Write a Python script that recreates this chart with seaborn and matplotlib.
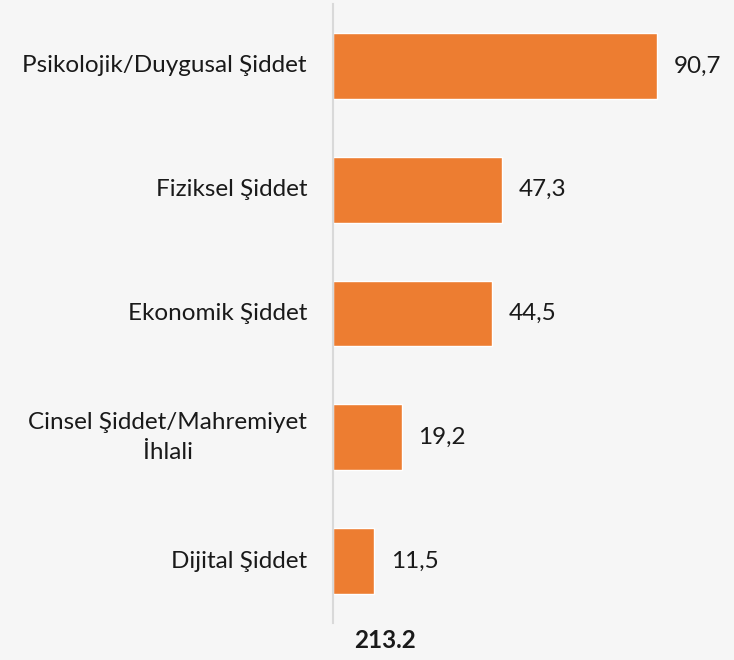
import pandas as pd
import matplotlib.pyplot as plt
import matplotlib.transforms as mtransforms
import seaborn as sns

# data
categories = ['Psikolojik/Duygusal Şiddet', 'Fiziksel Şiddet', 'Ekonomik Şiddet',
              'Cinsel Şiddet/Mahremiyet\nİhlali', 'Dijital Şiddet']
values = [90.7, 47.3, 44.5, 19.2, 11.5]
total_label = '213.2'

df = pd.DataFrame({'kategori': categories, 'deger': values})

sns.set_theme(style="white")
plt.rcParams['font.family'] = ['Lato', 'DejaVu Sans']

fig = plt.figure(figsize=(7.34, 6.6), dpi=100, facecolor='#f6f6f6')
ax = fig.add_axes([333/734, 37/660, 357/734, 619/660])
ax.set_facecolor('#f6f6f6')

sns.barplot(data=df, y='kategori', x='deger', color='#ed7d31', saturation=1,
            width=0.53, ax=ax)

# value labels with comma decimals
ax.bar_label(ax.containers[0], labels=[f'{v:.1f}'.replace('.', ',') for v in values],
             padding=12, fontsize=17.5, color='#1a1a1a')

ax.set_xlim(0, 100)
ax.set_xlabel('')
ax.set_ylabel('')
ax.set_xticks([])

# category labels drawn as text so the two-line one can be centred
ticks = ax.get_yticks()
ax.set_yticklabels([])
ax.tick_params(axis='y', length=0)
trans = mtransforms.blended_transform_factory(ax.transAxes, ax.transData)
offset = mtransforms.ScaledTranslation(-26/100, 0, fig.dpi_scale_trans)
for y, name in zip(ticks, categories):
    ax.text(0, y, name, transform=trans + offset, ha='right', va='center',
            multialignment='center', linespacing=1.55, fontsize=17.5, color='#1a1a1a')

for s in ['top', 'right', 'bottom']:
    ax.spines[s].set_visible(False)
ax.spines['left'].set_color('#d9d9d9')
ax.spines['left'].set_linewidth(1.5)

fig.text(385/734, 1 - 640/660, total_label, ha='center', va='center',
         fontsize=17.5, fontweight='bold', color='#1a1a1a')

fig.savefig('out.png', dpi=100, facecolor=fig.get_facecolor())
